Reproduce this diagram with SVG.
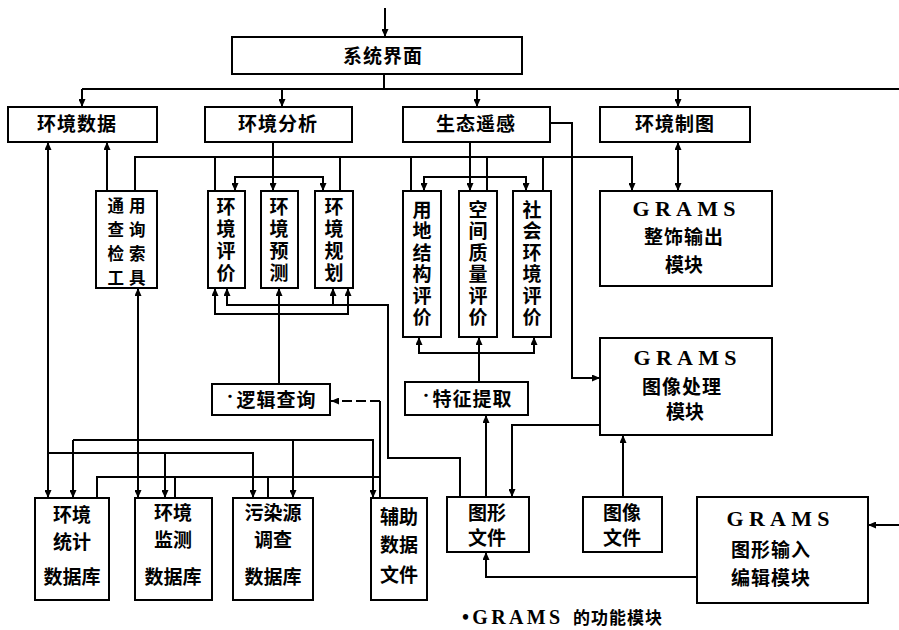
<svg xmlns="http://www.w3.org/2000/svg" width="899" height="630" viewBox="0 0 899 630">
<defs>
<marker id="ah" viewBox="0 0 8 7" refX="8" refY="3.5" markerWidth="8" markerHeight="7" markerUnits="userSpaceOnUse" orient="auto-start-reverse">
<path d="M0,0 L8,3.5 L0,7 z" fill="#000"/>
</marker>
<style>
rect{fill:#fff;stroke:#000;stroke-width:2}
text{font-family:"Noto Sans CJK SC","Liberation Sans",sans-serif;font-weight:bold;font-size:19px;fill:#000;text-anchor:middle}
.g{font-family:"Liberation Serif",serif;font-size:22px}
.c path{fill:none;stroke:#000;stroke-width:2}
.a{marker-end:url(#ah)}
.b{marker-start:url(#ah);marker-end:url(#ah)}
.v{font-size:19px;writing-mode:vertical-rl;text-anchor:start}
.q{font-size:16.5px}
</style>
</defs>
<rect x="0" y="0" width="899" height="630" style="fill:#fff;stroke:none"/>
<g class="c" id="connectors">
<path class="a" d="M385 8 V37"/>
<path d="M384 74 V89"/>
<path d="M82 89 H899"/>
<path class="a" d="M82 89 V107"/>
<path class="a" d="M282 89 V107"/>
<path class="a" d="M477 89 V107"/>
<path class="a" d="M678 89 V107"/>
<path class="a" d="M273 142 V191"/>
<path class="a" d="M273 177 H235 V191"/>
<path class="a" d="M273 177 H323 V191"/>
<path class="a" d="M470 142 V191"/>
<path class="a" d="M470 177 H424 V191"/>
<path class="a" d="M470 177 H526 V191"/>
<path class="a" d="M135 191 V157 H632 V191"/>
<path d="M215 157 V191 M340 157 V191 M411 157 V191 M487 157 V191 M543 157 V191"/>
<path class="a" d="M107 191 V142"/>
<path class="b" d="M678 142 V191"/>
<path class="a" d="M550 123 H572 V378 H600"/>
<path class="a" d="M460 497 V458 H388 V305 H227 V288"/>
<path class="a" d="M333 305 V288"/>
<path class="a" d="M279 384 V288"/>
<path class="a" d="M279 314 H215 V288"/>
<path class="a" d="M279 314 H348 V288"/>
<path class="a" d="M479 382 V337"/>
<path class="a" d="M479 353 H419 V337"/>
<path class="a" d="M479 353 H534 V337"/>
<path class="a" d="M486 497 V415"/>
<path class="a" d="M600 425 H512 V497"/>
<path class="a" d="M623 497 V435"/>
<path class="a" d="M697 577 H486 V552"/>
<path class="a" d="M899 525 H868"/>
<path class="b" d="M48 142 V498"/>
<path class="a" d="M48 453 H253 V498"/>
<path class="a" d="M165 453 V498"/>
<path class="b" d="M138 288 V498"/>
<path class="a" d="M73 440 V498"/>
<path class="a" d="M73 440 H373 V498"/>
<path class="a" d="M293 440 V498"/>
<path d="M97 498 V477 H380 V401 M175 477 V498 M268 477 V498 M380 477 V498"/>
<path class="a" d="M380 401 H331" stroke-dasharray="10 4"/>
</g>
<g id="n_sys"><rect x="232" y="37" width="290" height="37"/><text x="383" y="63" letter-spacing="1">系统界面</text></g>
<g id="n_envdata"><rect x="8" y="107" width="149" height="35"/><text x="77" y="131" letter-spacing="1">环境数据</text></g>
<g id="n_envanal"><rect x="205" y="107" width="147" height="35"/><text x="278" y="131" letter-spacing="1">环境分析</text></g>
<g id="n_eco"><rect x="403" y="107" width="147" height="35"/><text x="476" y="131" letter-spacing="1">生态遥感</text></g>
<g id="n_map"><rect x="600" y="107" width="150" height="35"/><text x="675" y="131" letter-spacing="1">环境制图</text></g>
<g id="n_query"><rect x="96" y="191" width="61" height="97"/>
<text class="q" letter-spacing="5"><tspan x="129" y="212">通用</tspan><tspan x="129" y="236">查询</tspan><tspan x="129" y="260">检索</tspan><tspan x="129" y="284">工具</tspan></text></g>
<g id="n_eval"><rect x="208" y="191" width="37" height="97"/>
<text class="v" x="226" y="197" letter-spacing="3">环境评价</text></g>
<g id="n_pred"><rect x="261" y="191" width="37" height="97"/>
<text class="v" x="279" y="197" letter-spacing="3">环境预测</text></g>
<g id="n_plan"><rect x="315" y="191" width="38" height="97"/>
<text class="v" x="334" y="197" letter-spacing="3">环境规划</text></g>
<g id="n_land"><rect x="403" y="191" width="38" height="146"/>
<text class="v" x="422" y="200" letter-spacing="2.5">用地结构评价</text></g>
<g id="n_space"><rect x="459" y="191" width="38" height="146"/>
<text class="v" x="478" y="200" letter-spacing="2.5">空间质量评价</text></g>
<g id="n_social"><rect x="513" y="191" width="38" height="146"/>
<text class="v" x="532" y="200" letter-spacing="2.5">社会环境评价</text></g>
<g id="n_out"><rect x="600" y="191" width="172" height="95"/>
<text class="g" x="684" y="216" textLength="103" lengthAdjust="spacing">GRAMS</text>
<text x="684" y="244" letter-spacing="1">整饰输出</text><text x="684" y="272">模块</text></g>
<g id="n_logic"><rect x="212" y="384" width="118" height="31"/>
<text x="270" y="407"><tspan font-size="13" dy="-6">•</tspan><tspan dy="6" letter-spacing="1">逻辑查询</tspan></text></g>
<g id="n_feat"><rect x="405" y="382" width="123" height="33"/>
<text x="466" y="406"><tspan font-size="13" dy="-6">•</tspan><tspan dy="6" letter-spacing="1">特征提取</tspan></text></g>
<g id="n_img"><rect x="600" y="338" width="172" height="97"/>
<text class="g" x="685" y="365" textLength="103" lengthAdjust="spacing">GRAMS</text>
<text x="682" y="394" letter-spacing="1">图像处理</text><text x="685" y="419">模块</text></g>
<g id="n_stat"><rect x="35" y="498" width="74" height="102"/>
<text x="72" y="522">环境</text><text x="72" y="549">统计</text><text x="72" y="584">数据库</text></g>
<g id="n_mon"><rect x="135" y="498" width="77" height="102"/>
<text x="173" y="520">环境</text><text x="173" y="547">监测</text><text x="173" y="584">数据库</text></g>
<g id="n_poll"><rect x="233" y="498" width="80" height="102"/>
<text x="273" y="520">污染源</text><text x="273" y="547">调查</text><text x="273" y="584">数据库</text></g>
<g id="n_aux"><rect x="371" y="498" width="56" height="102"/>
<text x="399" y="524">辅助</text><text x="399" y="552">数据</text><text x="399" y="582">文件</text></g>
<g id="n_gfile"><rect x="447" y="497" width="82" height="55"/>
<text x="487" y="520">图形</text><text x="487" y="545">文件</text></g>
<g id="n_ifile"><rect x="583" y="497" width="79" height="55"/>
<text x="622" y="520">图像</text><text x="622" y="545">文件</text></g>
<g id="n_input"><rect x="697" y="497" width="171" height="106"/>
<text class="g" x="778" y="526" textLength="103" lengthAdjust="spacing">GRAMS</text>
<text x="771" y="557" letter-spacing="1">图形输入</text><text x="771" y="585" letter-spacing="1">编辑模块</text></g>
<g id="caption">
<text class="g" x="462" y="624" style="text-anchor:start;font-size:20px" textLength="98" lengthAdjust="spacing">•GRAMS</text>
<text x="573" y="624" style="text-anchor:start;font-size:17px" letter-spacing="1">的功能模块</text>
</g>
</svg>
